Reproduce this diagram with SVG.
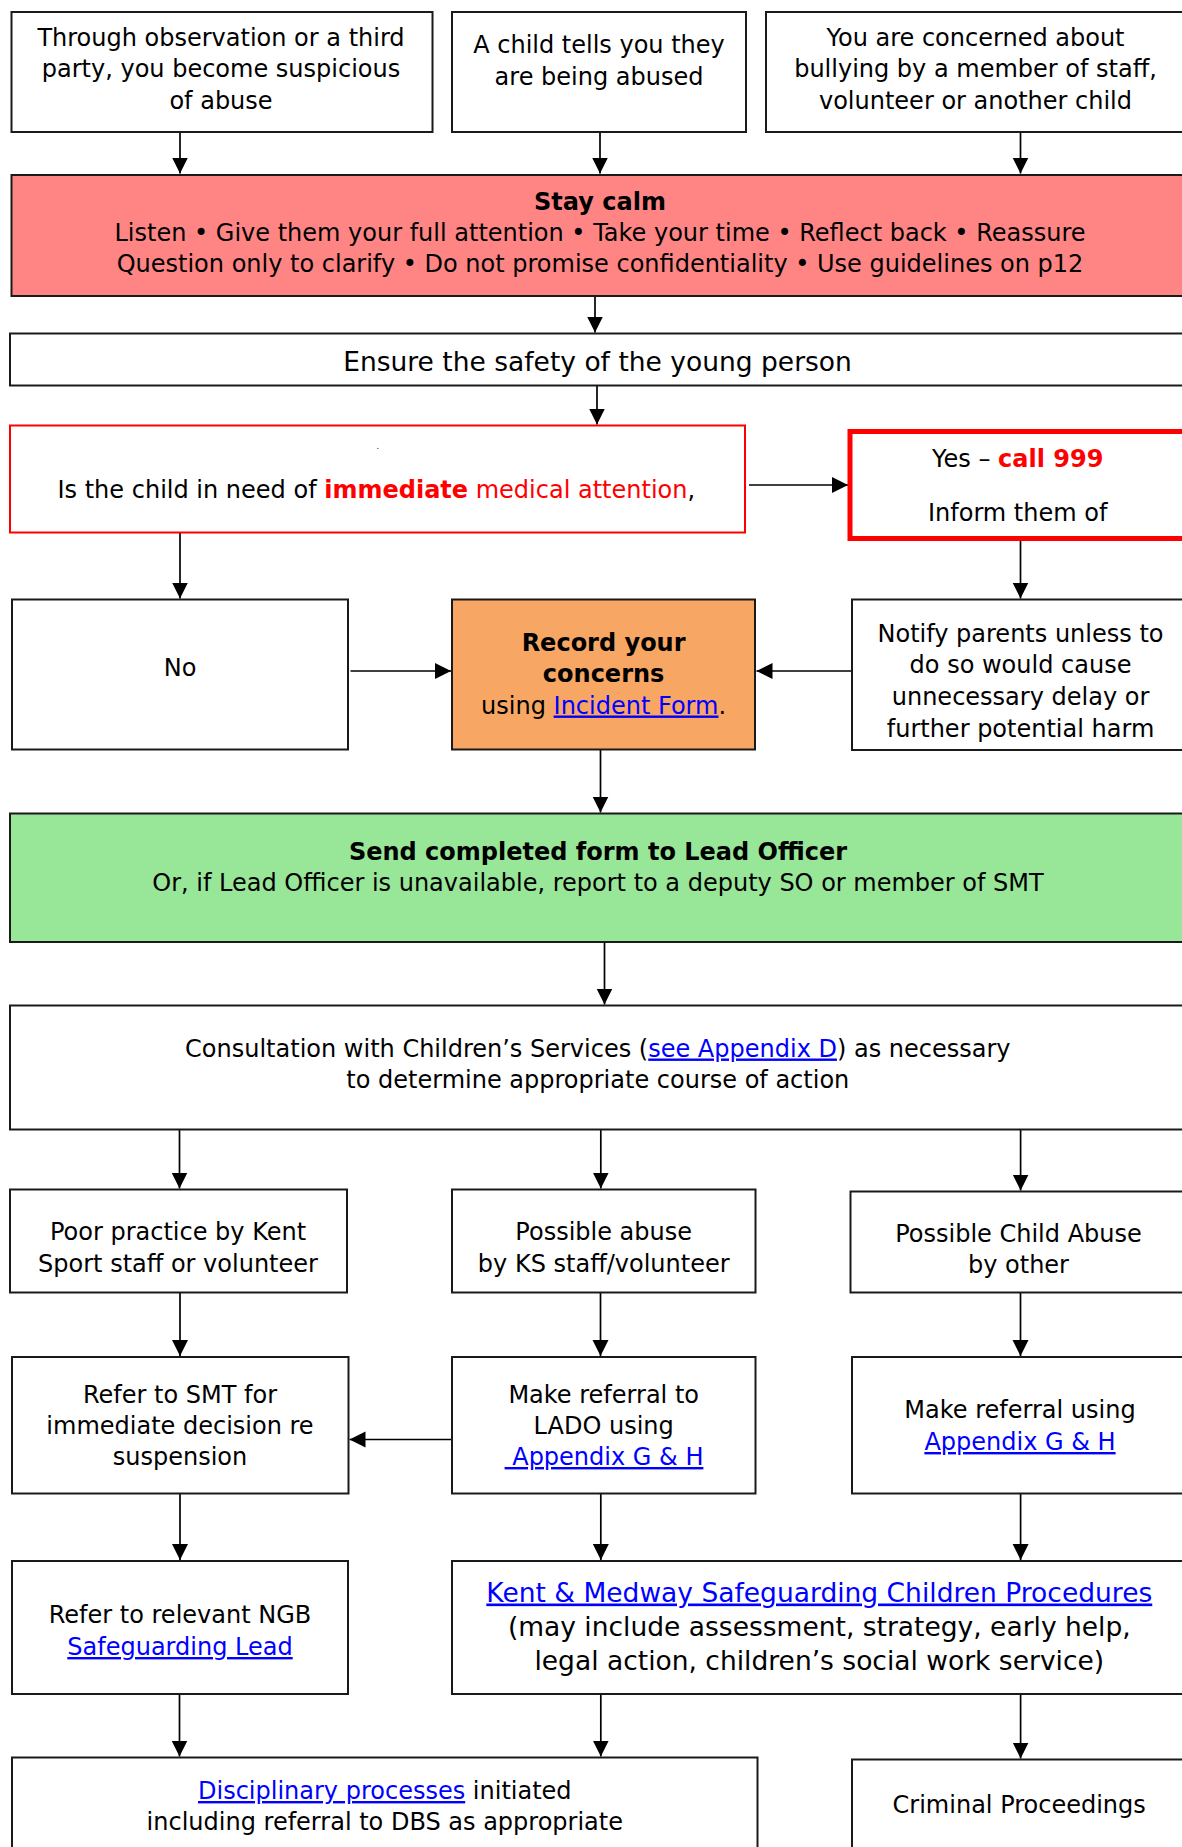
<svg xmlns="http://www.w3.org/2000/svg" width="1182" height="1847" viewBox="0 0 1182 1847">
<defs>
<marker id="ah" markerUnits="userSpaceOnUse" markerWidth="18" markerHeight="18" viewBox="0 0 18 18" refX="16" refY="9" orient="auto">
<path d="M0,1 L16,9 L0,17 Z" fill="#000"/>
</marker>
<style>
.b{fill:#fff;stroke:#1a1a1a;stroke-width:2}
.t{font-family:"DejaVu Sans",Verdana,sans-serif;font-size:24px;fill:#000;text-anchor:middle}
.big{font-size:26.5px}
.bd{font-weight:bold}
.red{fill:#ff0000}
.lk{fill:#0000ff;text-decoration:underline}
.c{fill:none;stroke:#000;stroke-width:1.7;marker-end:url(#ah)}
</style>
</defs>
<rect width="1182" height="1847" fill="#fff"/>

<g id="connectors">
<path class="c" d="M180,132 V173.5"/>
<path class="c" d="M600,132 V173.5"/>
<path class="c" d="M1020.5,132 V173.5"/>
<path class="c" d="M595,296 V332.5"/>
<path class="c" d="M597,385.5 V424.5"/>
<path class="c" d="M749,485 H848"/>
<path class="c" d="M180,532.5 V598.5"/>
<path class="c" d="M1020.5,540 V598.5"/>
<path class="c" d="M350.5,671 H451"/>
<path class="c" d="M852,671 H756.5"/>
<path class="c" d="M600.5,749.5 V812.5"/>
<path class="c" d="M604.5,942 V1004.5"/>
<path class="c" d="M179.5,1129.5 V1188.5"/>
<path class="c" d="M600.8,1129.5 V1188.5"/>
<path class="c" d="M1020.6,1129.5 V1190.5"/>
<path class="c" d="M180,1292.5 V1356"/>
<path class="c" d="M600.5,1292.5 V1356"/>
<path class="c" d="M1020.5,1292.5 V1356"/>
<path class="c" d="M452,1439.5 H349.5"/>
<path class="c" d="M180,1493.5 V1560"/>
<path class="c" d="M600.8,1493.5 V1560"/>
<path class="c" d="M1020.6,1493.5 V1560"/>
<path class="c" d="M179.5,1694 V1756.5"/>
<path class="c" d="M600.8,1694 V1756.5"/>
<path class="c" d="M1020.6,1694 V1758.5"/>
</g>

<g id="n-observation">
<rect class="b" x="11.5" y="12" width="421" height="120"/>
<text class="t" x="221" y="46">Through observation or a third</text>
<text class="t" x="221" y="77.3">party, you become suspicious</text>
<text class="t" x="221" y="108.6">of abuse</text>
</g>

<g id="n-child-tells">
<rect class="b" x="452" y="12" width="294" height="120"/>
<text class="t" x="599" y="53">A child tells you they</text>
<text class="t" x="599" y="84.5">are being abused</text>
</g>

<g id="n-bullying">
<rect class="b" x="766" y="12" width="430" height="120"/>
<text class="t" x="975.5" y="46">You are concerned about</text>
<text class="t" x="975.5" y="77.3">bullying by a member of staff,</text>
<text class="t" x="975.5" y="108.6">volunteer or another child</text>
</g>

<g id="n-stay-calm">
<rect class="b" x="11.5" y="175" width="1182" height="121" style="fill:#ff8585"/>
<text class="t bd" x="600" y="210">Stay calm</text>
<text class="t" x="600" y="241">Listen • Give them your full attention • Take your time • Reflect back • Reassure</text>
<text class="t" x="600" y="272">Question only to clarify • Do not promise confidentiality • Use guidelines on p12</text>
</g>

<g id="n-ensure">
<rect class="b" x="10" y="333.5" width="1185" height="52"/>
<text class="t big" x="597.5" y="370.5">Ensure the safety of the young person</text>
</g>

<g id="n-question">
<rect class="b" x="10" y="425.5" width="735" height="107" style="stroke:#ff0000"/>
<text class="t" x="377.7" y="449" style="font-size:8px">.</text>
<text class="t" x="376.3" y="498">Is the child in need of <tspan class="bd red">immediate</tspan><tspan class="red"> medical attention</tspan>,</text>
</g>

<g id="n-yes">
<rect class="b" x="850" y="431.5" width="345" height="107" style="stroke:#ff0000;stroke-width:5"/>
<text class="t" x="1017.7" y="466.7">Yes – <tspan class="bd red">call 999</tspan></text>
<text class="t" x="1017.7" y="520.7">Inform them of</text>
</g>

<g id="n-no">
<rect class="b" x="12" y="599.5" width="336" height="150"/>
<text class="t" x="180" y="676">No</text>
</g>

<g id="n-record">
<rect class="b" x="452" y="599.5" width="303" height="150" style="fill:#f7a663"/>
<text class="t bd" x="603.6" y="650.5">Record your</text>
<text class="t bd" x="603.6" y="682">concerns</text>
<text class="t" x="603.6" y="713.5">using <tspan class="lk">Incident Form</tspan>.</text>
</g>

<g id="n-notify">
<rect class="b" x="852" y="599.5" width="345" height="150.5"/>
<text class="t" x="1020.5" y="641.7">Notify parents unless to</text>
<text class="t" x="1020.5" y="673.3">do so would cause</text>
<text class="t" x="1020.5" y="705">unnecessary delay or</text>
<text class="t" x="1020.5" y="736.7">further potential harm</text>
</g>

<g id="n-send-form">
<rect class="b" x="10" y="813.5" width="1185" height="128.5" style="fill:#98e698"/>
<text class="t bd" x="598" y="860">Send completed form to Lead Officer</text>
<text class="t" x="598" y="890.5">Or, if Lead Officer is unavailable, report to a deputy SO or member of SMT</text>
</g>

<g id="n-consultation">
<rect class="b" x="10" y="1005.5" width="1185" height="124"/>
<text class="t" x="597.8" y="1056.5">Consultation with Children’s Services (<tspan class="lk">see Appendix D</tspan>) as necessary</text>
<text class="t" x="597.8" y="1087.5">to determine appropriate course of action</text>
</g>

<g id="n-poor-practice">
<rect class="b" x="10" y="1189.5" width="337" height="103"/>
<text class="t" x="178" y="1240">Poor practice by Kent</text>
<text class="t" x="178" y="1271.7">Sport staff or volunteer</text>
</g>

<g id="n-possible-abuse">
<rect class="b" x="452" y="1189.5" width="303.5" height="103"/>
<text class="t" x="603.7" y="1240">Possible abuse</text>
<text class="t" x="603.7" y="1271.7">by KS staff/volunteer</text>
</g>

<g id="n-abuse-other">
<rect class="b" x="850.5" y="1191.5" width="345" height="101"/>
<text class="t" x="1018.5" y="1241.7">Possible Child Abuse</text>
<text class="t" x="1018.5" y="1273.3">by other</text>
</g>

<g id="n-refer-smt">
<rect class="b" x="12" y="1357" width="336.5" height="136.5"/>
<text class="t" x="180" y="1402.7">Refer to SMT for</text>
<text class="t" x="180" y="1434">immediate decision re</text>
<text class="t" x="180" y="1465">suspension</text>
</g>

<g id="n-lado">
<rect class="b" x="452" y="1357" width="303.5" height="136.5"/>
<text class="t" x="603.7" y="1402.7">Make referral to</text>
<text class="t" x="603.7" y="1434">LADO using</text>
<text class="t lk" x="604" y="1465">&#160;Appendix G &amp; H</text>
</g>

<g id="n-make-referral">
<rect class="b" x="852" y="1357" width="345" height="136.5"/>
<text class="t" x="1020" y="1418.3">Make referral using</text>
<text class="t lk" x="1020" y="1450">Appendix G &amp; H</text>
</g>

<g id="n-ngb">
<rect class="b" x="12" y="1561" width="336" height="133"/>
<text class="t" x="180" y="1623.3">Refer to relevant NGB</text>
<text class="t lk" x="180" y="1655">Safeguarding Lead</text>
</g>

<g id="n-kent">
<rect class="b" x="452" y="1561" width="745" height="133"/>
<text class="t big lk" x="819.3" y="1601.5">Kent &amp; Medway Safeguarding Children Procedures</text>
<text class="t big" x="819.3" y="1635.5">(may include assessment, strategy, early help,</text>
<text class="t big" x="819.3" y="1670">legal action, children’s social work service)</text>
</g>

<g id="n-disciplinary">
<rect class="b" x="12" y="1757.5" width="745.5" height="100"/>
<text class="t" x="384.8" y="1799">
<tspan class="lk">Disciplinary processes</tspan> initiated</text>
<text class="t" x="384.8" y="1830">including referral to DBS as appropriate</text>
</g>

<g id="n-criminal">
<rect class="b" x="852" y="1759.5" width="345" height="100"/>
<text class="t" x="1019.2" y="1812.5">Criminal Proceedings</text>
</g>
</svg>
